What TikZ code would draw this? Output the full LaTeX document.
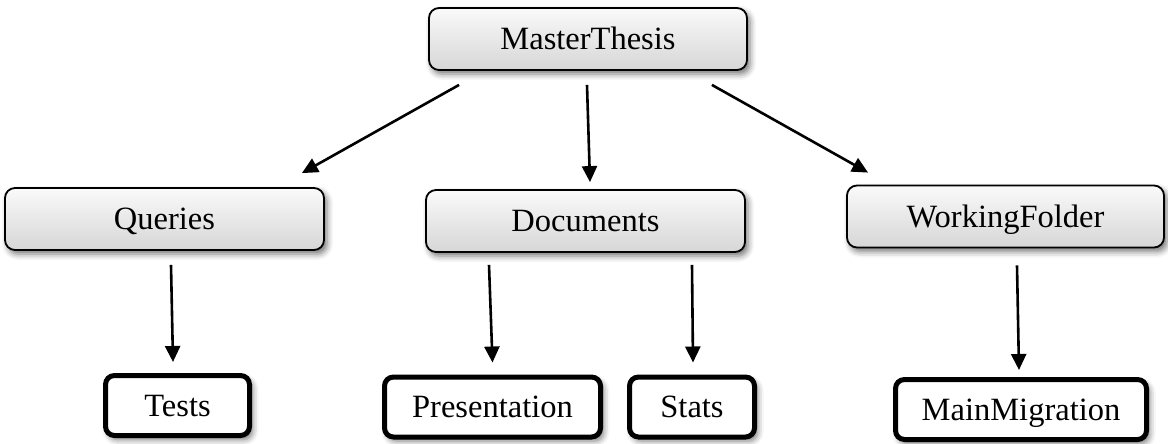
\documentclass[tikz,border=0pt]{standalone}
\usepackage{fontspec}
\setmainfont{Liberation Serif}
\usetikzlibrary{arrows.meta,calc,shadows.blur}
\begin{document}
\begin{tikzpicture}[x=1pt,y=-1pt,
  topbox/.style={draw=black,line width=1.8pt,rounded corners=10pt,
    top color=gray!4,bottom color=gray!32,inner sep=0pt,
    text height=21.5pt,text depth=0pt,
    minimum height=62pt,font=\fontsize{32.5}{36}\selectfont,
    blur shadow={shadow xshift=3pt,shadow yshift=-4pt,shadow blur radius=6pt,shadow opacity=55}},
  leafbox/.style={draw=black,line width=5pt,rounded corners=9pt,fill=white,inner sep=0pt,
    text height=21.5pt,text depth=0pt,
    minimum height=60pt,font=\fontsize{32.5}{36}\selectfont,
    blur shadow={shadow xshift=3pt,shadow yshift=-4pt,shadow blur radius=6pt,shadow opacity=55}},
  arr/.style={line width=2.6pt,-{Triangle[length=16pt,width=15pt]}}]
\useasboundingbox (0,0) rectangle (1168,444);
% top-level boxes
\node[topbox,minimum width=318pt] (master) at (588,39) {MasterThesis};
\node[topbox,minimum width=319pt] (queries) at (164.5,219) {Queries};
\node[topbox,minimum width=319pt] (documents) at (585.5,221) {Documents};
\node[topbox,minimum width=317pt] (wf) at (1005.5,216.5) {WorkingFolder};
% leaf boxes
\node[leafbox,minimum width=144pt] (tests) at (177.5,405.5) {Tests};
\node[leafbox,minimum width=216pt] (pres) at (492.5,407) {Presentation};
\node[leafbox,minimum width=125pt] (stats) at (692,407) {Stats};
\node[leafbox,minimum width=251pt] (mm) at (1021,409.5) {MainMigration};
% connectors
\draw[arr] ($(master.south west)+(31,14)$) -- ($(queries.north east)+(-23,-14)$);
\draw[arr] ($(master.south)+(-1,14)$) -- ($(documents.north)+(4.5,-7)$);
\draw[arr] ($(master.south east)+(-36,14)$) -- ($(wf.north west)+(22,-12)$);
\draw[arr] ($(queries.south)+(6.5,14)$) -- ($(tests.north)+(-4.5,-11)$);
\draw[arr] ($(documents.south)+(-96.5,12)$) -- ($(pres.north)+(0,-12)$);
\draw[arr] ($(documents.south)+(106.5,12)$) -- ($(stats.north)+(1,-12)$);
\draw[arr] ($(wf.south)+(11.5,17)$) -- ($(mm.north)+(-2,-7)$);
\end{tikzpicture}
\end{document}
